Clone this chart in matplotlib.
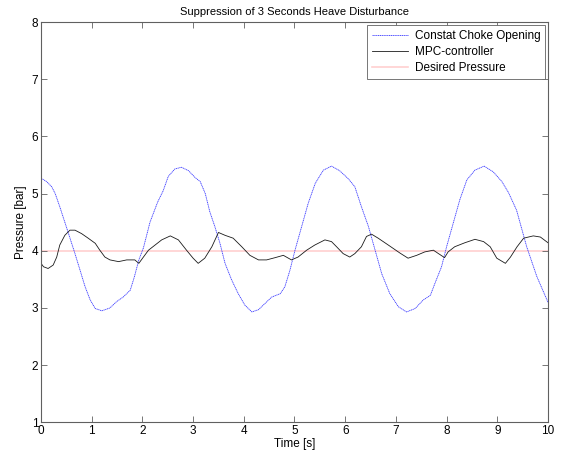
import numpy as np
import matplotlib
matplotlib.use("Agg")
import matplotlib.pyplot as plt

plt.rcParams['font.family'] = ['Liberation Sans', 'DejaVu Sans']

# constant choke opening (blue, dotted)
t_open = [0.0, 0.11, 0.21, 0.28, 0.37, 0.51, 0.67, 0.77, 0.87, 0.97, 1.07, 1.20,
          1.36, 1.49, 1.62, 1.76, 1.84, 1.93, 2.02, 2.15, 2.30, 2.41, 2.51, 2.64,
          2.77, 2.91, 3.04, 3.14, 3.24, 3.33, 3.43, 3.53, 3.63, 3.76, 3.89, 4.02,
          4.16, 4.29, 4.42, 4.55, 4.72, 4.81, 4.91, 5.01, 5.14, 5.27, 5.41, 5.57,
          5.73, 5.89, 6.06, 6.19, 6.32, 6.46, 6.59, 6.72, 6.88, 7.05, 7.21, 7.38,
          7.54, 7.68, 7.77, 7.90, 8.00, 8.13, 8.26, 8.40, 8.56, 8.74, 8.92, 9.09,
          9.22, 9.38, 9.58, 9.78, 10.0]
p_open = [5.27, 5.21, 5.12, 5.00, 4.77, 4.39, 3.95, 3.66, 3.37, 3.14, 2.99, 2.95,
          3.00, 3.11, 3.19, 3.31, 3.54, 3.84, 4.05, 4.50, 4.85, 5.05, 5.30, 5.43,
          5.46, 5.40, 5.28, 5.21, 5.00, 4.68, 4.42, 4.13, 3.78, 3.49, 3.25, 3.05,
          2.93, 2.97, 3.08, 3.19, 3.25, 3.37, 3.66, 4.01, 4.42, 4.83, 5.18, 5.41,
          5.48, 5.40, 5.26, 5.12, 4.77, 4.42, 4.01, 3.60, 3.25, 3.02, 2.93, 2.99,
          3.14, 3.22, 3.43, 3.72, 4.07, 4.48, 4.89, 5.24, 5.41, 5.48, 5.38, 5.21,
          5.02, 4.71, 4.07, 3.55, 3.10]

# MPC controller (black)
t_mpc = [0.0, 0.05, 0.14, 0.24, 0.31, 0.37, 0.47, 0.57, 0.67, 0.80, 0.93, 1.07,
         1.16, 1.26, 1.36, 1.53, 1.69, 1.85, 1.93, 2.02, 2.12, 2.25, 2.38, 2.55,
         2.71, 2.87, 3.00, 3.10, 3.23, 3.37, 3.50, 3.63, 3.79, 3.96, 4.12, 4.29,
         4.45, 4.62, 4.78, 4.94, 5.07, 5.24, 5.40, 5.60, 5.73, 5.83, 5.96, 6.09,
         6.19, 6.32, 6.42, 6.52, 6.65, 6.85, 7.08, 7.24, 7.41, 7.57, 7.74, 7.84,
         7.96, 8.03, 8.16, 8.36, 8.56, 8.73, 8.86, 8.99, 9.16, 9.26, 9.39, 9.52,
         9.71, 9.85, 10.0]
p_mpc = [3.78, 3.72, 3.69, 3.75, 3.89, 4.10, 4.27, 4.36, 4.36, 4.30, 4.22, 4.13,
         4.01, 3.89, 3.84, 3.81, 3.84, 3.84, 3.78, 3.89, 4.01, 4.10, 4.19, 4.26,
         4.19, 4.01, 3.87, 3.78, 3.87, 4.07, 4.32, 4.27, 4.22, 4.07, 3.92, 3.84,
         3.84, 3.88, 3.92, 3.84, 3.89, 4.01, 4.10, 4.19, 4.16, 4.07, 3.95, 3.89,
         3.95, 4.07, 4.25, 4.29, 4.22, 4.10, 3.96, 3.87, 3.92, 3.98, 4.01, 3.95,
         3.88, 3.98, 4.07, 4.14, 4.20, 4.16, 4.07, 3.87, 3.78, 3.89, 4.07, 4.22,
         4.26, 4.24, 4.14]

t_ref = [0.0, 10.0]
p_ref = [4.0, 4.0]

fig = plt.figure(figsize=(5.61, 4.54), dpi=100)
ax = fig.add_axes([0.0731, 0.0698, 0.9037, 0.8817])

ax.plot(t_open, p_open, color='#3a3aff', lw=0.6, ls=(0, (1.5, 0.7)),
        label='Constat Choke Opening')
ax.plot(t_mpc, p_mpc, color='#1a1a1a', lw=0.6, label='MPC-controller')
ax.plot(t_ref, p_ref, color='#ffd0d0', lw=1.2, label='Desired Pressure', zorder=1)

ax.set_xlim(0, 10)
ax.set_ylim(1, 8)
ax.set_xticks(range(0, 11))
ax.set_yticks(range(1, 9))
ax.tick_params(direction='in', top=True, right=True, labelsize=8.5, length=4,
               width=0.6, color='#606060', pad=2)
for s in ax.spines.values():
    s.set_color('#606060')
    s.set_linewidth(0.8)

ax.set_xlabel('Time [s]', fontsize=8.5, labelpad=1)
ax.set_ylabel('Pressure [bar]', fontsize=8.5, labelpad=3)
ax.set_title('Suppression of 3 Seconds Heave Disturbance', fontsize=8, pad=5)

leg = ax.legend(loc='upper right', fontsize=8.5, fancybox=False, framealpha=1,
                edgecolor='#606060', borderaxespad=0.25, handlelength=3.0,
                borderpad=0.4, labelspacing=0.35, handletextpad=0.6)
leg.get_frame().set_linewidth(0.6)

fig.savefig('out.png', dpi=100)
